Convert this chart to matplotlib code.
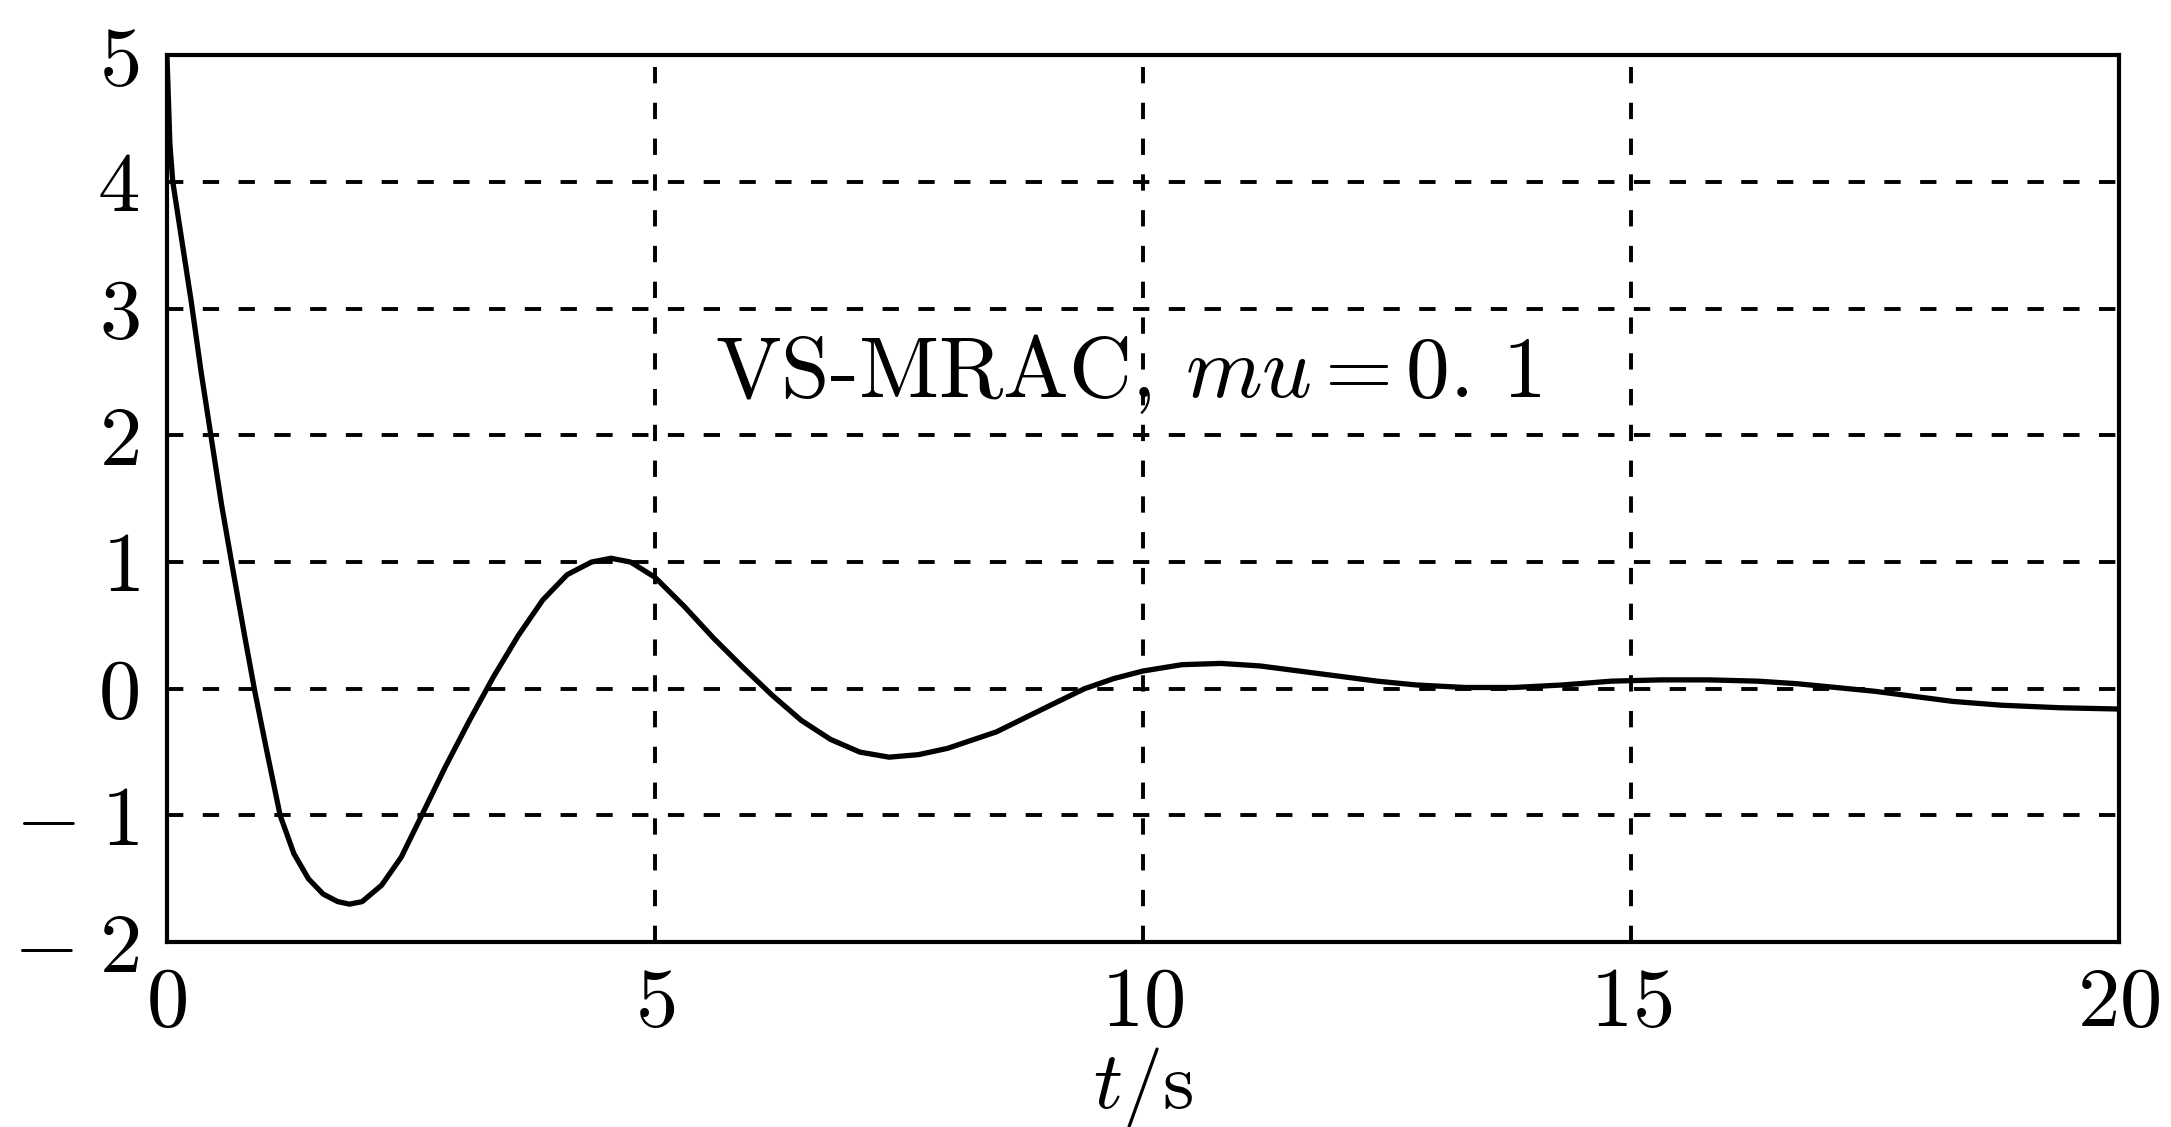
import matplotlib
matplotlib.use("Agg")
import matplotlib.pyplot as plt
import numpy as np

# ---- data ----
t_vals = [0, 0.03, 0.06, 0.15, 0.25, 0.35, 0.45, 0.56, 0.68, 0.80, 0.90, 1.02,
          1.16, 1.30, 1.45, 1.60, 1.75, 1.87, 2.0, 2.2, 2.4, 2.61, 2.85, 3.1,
          3.35, 3.6, 3.85, 4.1, 4.35, 4.55, 4.75, 5.0, 5.3, 5.6, 5.9, 6.2, 6.5,
          6.8, 7.1, 7.4, 7.7, 8.0, 8.5, 9.0, 9.4, 9.7, 10.0, 10.4, 10.8, 11.2,
          11.6, 12.0, 12.4, 12.8, 13.3, 13.8, 14.3, 14.8, 15.3, 15.8, 16.3,
          16.7, 17.1, 17.5, 17.9, 18.3, 18.8, 19.4, 20.0]
y_vals = [5.0, 4.3, 4.0, 3.55, 3.05, 2.5, 2.0, 1.45, 0.92, 0.4, -0.02, -0.48,
          -1.0, -1.3, -1.5, -1.62, -1.68, -1.70, -1.68, -1.55, -1.33, -1.0,
          -0.62, -0.25, 0.1, 0.42, 0.7, 0.9, 1.0, 1.03, 1.0, 0.88, 0.65, 0.4,
          0.17, -0.05, -0.25, -0.4, -0.5, -0.54, -0.52, -0.47, -0.34, -0.15,
          0.0, 0.08, 0.14, 0.19, 0.2, 0.18, 0.14, 0.1, 0.06, 0.03, 0.01, 0.01,
          0.03, 0.06, 0.07, 0.07, 0.06, 0.04, 0.01, -0.02, -0.06, -0.1, -0.13,
          -0.15, -0.16]

x_ticks = [0, 5, 10, 15, 20]
x_tick_labels = ["$0$", "$5$", "$10$", "$15$", "$20$"]
y_ticks = [-2, -1, 0, 1, 2, 3, 4, 5]
y_tick_labels = [r"$-\;2$", r"$-\;1$", "$0$", "$1$", "$2$", "$3$", "$4$", "$5$"]
annotation = r"VS-MRAC, $mu\,$=$\,$0. 1"
x_label = "$t$/s"

plt.rcParams["mathtext.fontset"] = "cm"
plt.rcParams["font.family"] = ["cmr10", "DejaVu Serif"]
plt.rcParams["axes.formatter.use_mathtext"] = True

fig = plt.figure(figsize=(21.71, 11.27), dpi=100)
ax = fig.add_axes([0.0769, 0.164, 0.976 - 0.0769, 0.951 - 0.164])

ax.plot(t_vals, y_vals, color="black", linewidth=3.8, solid_joinstyle="round")

ax.set_xlim(0, 20)
ax.set_ylim(-2, 5)
ax.set_xticks(x_ticks)
ax.set_xticklabels(x_tick_labels)
ax.set_yticks(y_ticks)
ax.set_yticklabels(y_tick_labels)
ax.tick_params(axis="both", length=0, labelsize=61, colors="black")
ax.tick_params(axis="x", pad=18)
ax.tick_params(axis="y", pad=20)

for v in [5, 10, 15]:
    ax.axvline(v, color="black", linewidth=2.8, linestyle=(0, (4.2, 5.0)), zorder=0)
for v in [-1, 0, 1, 2, 3, 4]:
    ax.axhline(v, color="black", linewidth=2.8, linestyle=(0, (4.2, 5.0)), zorder=0)

for s in ax.spines.values():
    s.set_linewidth(3.0)
    s.set_color("black")

ax.text(9.85, 2.48, annotation, fontsize=63, ha="center", va="center",
        color="black")
ax.set_xlabel(x_label, fontsize=58, labelpad=2)

fig.savefig("out.png", dpi=100, facecolor="white")
